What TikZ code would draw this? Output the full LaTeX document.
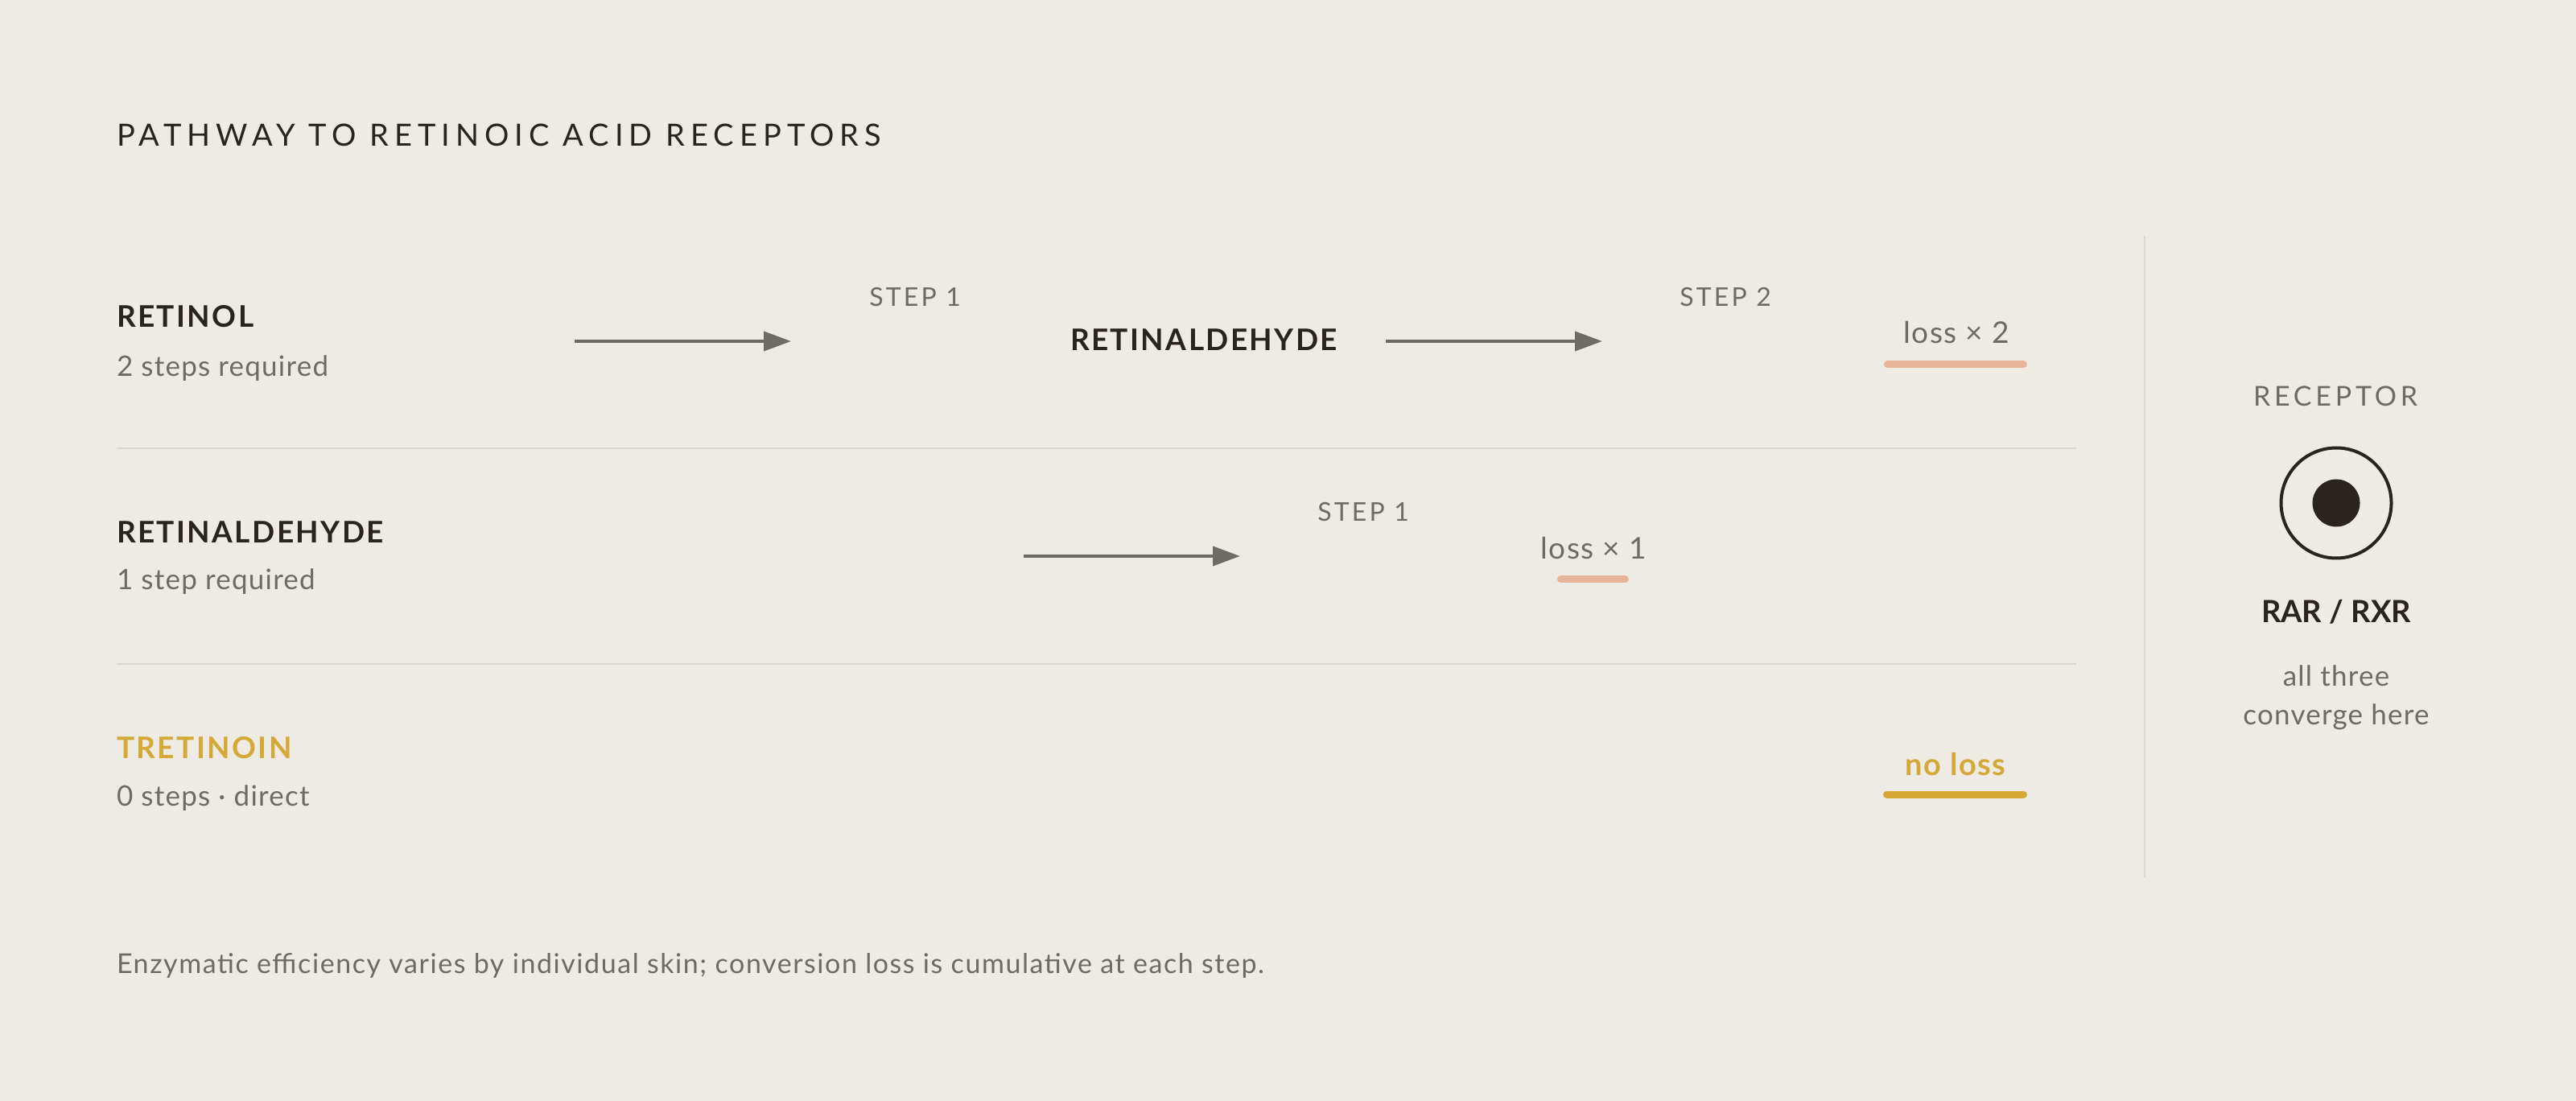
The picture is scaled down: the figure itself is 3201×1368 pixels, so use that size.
\documentclass[tikz,border=0pt]{standalone}
\usepackage{fontspec}
\setmainfont{Lato}
\usetikzlibrary{arrows.meta}
\definecolor{bg}{HTML}{EEEBE5}
\definecolor{ink}{HTML}{2A2420}
\definecolor{mute}{HTML}{6E6A65}
\definecolor{rulec}{HTML}{D9D6CF}
\definecolor{salmon}{HTML}{E8B49A}
\definecolor{gold}{HTML}{D4A937}
\newcommand\myfs[1]{\fontsize{#1}{#1}\selectfont}
\begin{document}
\begin{tikzpicture}[x=0.5pt,y=-0.5pt,
  lt/.style={inner sep=0pt, outer sep=0pt, anchor=base west},
  ct/.style={inner sep=0pt, outer sep=0pt, anchor=base},
  titletext/.style={lt, text=ink, font=\myfs{19}\addfontfeatures{LetterSpace=18.5}},
  namebold/.style={text=ink, font=\myfs{18.5}\bfseries\addfontfeatures{LetterSpace=6.5}},
  subtext/.style={lt, text=mute, font=\myfs{17.5}\addfontfeatures{LetterSpace=3.5}},
  foottext/.style={lt, text=mute, font=\myfs{17}\addfontfeatures{LetterSpace=4.6}},
  steplabel/.style={ct, text=mute, font=\myfs{16}\addfontfeatures{LetterSpace=10}},
  losstext/.style={ct, text=mute, font=\myfs{18.5}\addfontfeatures{LetterSpace=4}},
  flow/.style={draw=mute, line width=2pt, -{Triangle[length=17pt,width=12pt]}},
  sep/.style={draw=rulec, line width=1pt},
  bar/.style={line width=4.5pt, line cap=round},
]
\useasboundingbox[fill=bg] (0,0) rectangle (3201,1368);

\node[titletext] (title) at (145,182) {PATHWAY TO RETINOIC ACID RECEPTORS};

% row 1
\node[lt, namebold] (r1name) at (145,407) {RETINOL};
\node[subtext] (r1sub) at (145,468) {2 steps required};
\coordinate (a1s) at (714,424);
\coordinate (a1e) at (983,424);
\draw[flow] (a1s) -- (a1e);
\node[steplabel] (r1s1) at (1137,381) {STEP 1};
\node[ct, namebold] (r1mid) at (1496,436) {RETINALDEHYDE};
\coordinate (a2s) at (1722,424);
\coordinate (a2e) at (1991,424);
\draw[flow] (a2s) -- (a2e);
\node[steplabel] (r1s2) at (2144,381) {STEP 2};
\node[losstext] (r1loss) at (2431,427) {loss × 2};
\coordinate (u1s) at (2345.5,453);
\coordinate (u1e) at (2514.5,453);
\draw[bar, salmon] (u1s) -- (u1e);

\coordinate (sep1s) at (145,557.5);
\coordinate (sep1e) at (2580,557.5);
\draw[sep] (sep1s) -- (sep1e);

% row 2
\node[lt, namebold] (r2name) at (145,675) {RETINALDEHYDE};
\node[subtext] (r2sub) at (145,733) {1 step required};
\coordinate (a3s) at (1272,691);
\coordinate (a3e) at (1541,691);
\draw[flow] (a3s) -- (a3e);
\node[steplabel] (r2s1) at (1694,648) {STEP 1};
\node[losstext] (r2loss) at (1980,695) {loss × 1};
\coordinate (u2s) at (1939.5,720);
\coordinate (u2e) at (2019.5,720);
\draw[bar, salmon] (u2s) -- (u2e);

\coordinate (sep2s) at (145,825);
\coordinate (sep2e) at (2580,825);
\draw[sep] (sep2s) -- (sep2e);

% row 3
\node[lt, namebold, text=gold] (r3name) at (145,942) {TRETINOIN};
\node[subtext] (r3sub) at (145,1001) {0 steps · direct};
\node[ct, text=gold, font=\myfs{19}\bfseries\addfontfeatures{LetterSpace=4}] (r3loss) at (2430,963) {no loss};
\coordinate (u3s) at (2344.5,987);
\coordinate (u3e) at (2514.5,987);
\draw[bar, gold] (u3s) -- (u3e);

% receptor column
\coordinate (vts) at (2665,293);
\coordinate (vte) at (2665,1090);
\draw[sep] (vts) -- (vte);
\node[ct, text=mute, font=\myfs{17}\addfontfeatures{LetterSpace=14}] (rechead) at (2902,505) {RECEPTOR};
\node[circle, draw=ink, line width=2pt, minimum size=68.5pt, inner sep=0pt] (ring) at (2903,625) {};
\node[circle, fill=ink, minimum size=29.5pt, inner sep=0pt] (core) at (ring.center) {};
\node[ct, text=ink, font=\myfs{19}\bfseries] (recname) at (2903,773) {RAR / RXR};
\node[ct, text=mute, font=\myfs{17.5}\addfontfeatures{LetterSpace=3.5}] (recl1) at (2903,852) {all three};
\node[ct, text=mute, font=\myfs{17.5}\addfontfeatures{LetterSpace=3.5}] (recl2) at (2903,900) {converge here};

% footer
\node[foottext] (foot) at (145,1209) {Enzymatic efficiency varies by individual skin; conversion loss is cumulative at each step.};
\end{tikzpicture}
\end{document}
